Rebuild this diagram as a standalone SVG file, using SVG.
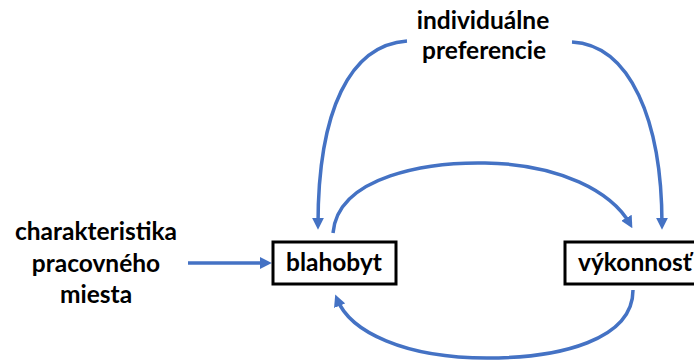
<svg xmlns="http://www.w3.org/2000/svg" width="694" height="360" viewBox="0 0 694 360">
<style>
.t{font-family:Lato,"Open Sans","Liberation Sans",sans-serif;font-weight:bold;font-size:24.5px;fill:#000;text-anchor:middle}
.box{fill:#fff;stroke:#000;stroke-width:3}
.c{fill:none;stroke:#4472C4;stroke-width:3.5}
</style>
<defs>
<marker id="ah" viewBox="0 0 10 10" refX="6" refY="5" markerWidth="12" markerHeight="12" markerUnits="userSpaceOnUse" orient="auto">
<path d="M0,0 L10,5 L0,10 z" fill="#4472C4"/>
</marker>
</defs>
<g id="connectors">
<path class="c" marker-end="url(#ah)" d="M407,41 C350,45 318,110 318,225"/>
<path class="c" marker-end="url(#ah)" d="M572,42 C630,45 662,120 662,225"/>
<path class="c" marker-end="url(#ah)" d="M333,233 C338,175 430,162 485,163 C560,164 612,192 630,224"/>
<path class="c" marker-end="url(#ah)" d="M633,290 C633,340 560,358 487,358 C405,358 350,332 337,299"/>
<path class="c" marker-end="url(#ah)" d="M188,263 L267,263"/>
</g>
<g id="individualne-preferencie">
<text class="t" x="483" y="29">individuálne</text>
<text class="t" x="484" y="59">preferencie</text>
</g>
<g id="charakteristika">
<text class="t" x="96" y="240">charakteristika</text>
<text class="t" x="96" y="272">pracovného</text>
<text class="t" x="96" y="303">miesta</text>
</g>
<g id="blahobyt">
<rect class="box" x="273" y="242" width="123" height="42"/>
<text class="t" x="334" y="271">blahobyt</text>
</g>
<g id="vykonnost">
<rect class="box" x="565" y="242" width="140" height="42"/>
<text class="t" x="578" y="271" style="text-anchor:start">výkonnosť</text>
</g>
</svg>
